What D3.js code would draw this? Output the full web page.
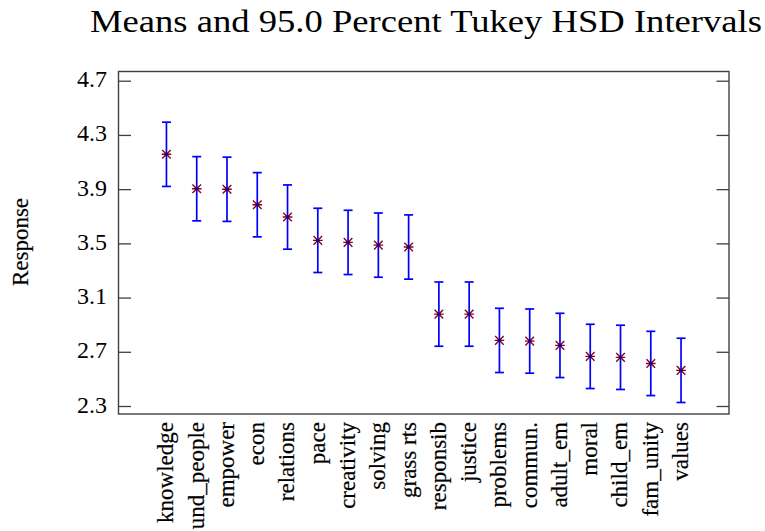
<!DOCTYPE html>
<html>
<head>
<meta charset="utf-8">
<script src="https://cdn.jsdelivr.net/npm/d3@7"></script>
<style>
  html, body { margin: 0; padding: 0; background: #fff; }
  svg { display: block; }
  text { font-family: "Liberation Serif", "Times New Roman", serif; fill: #000; }
  text.heavy { stroke: #000; stroke-width: 0.2; }
</style>
</head>
<body>
<svg id="chart" width="765" height="531"></svg>
<script>
// Group means (Response) for each factor, in display order
const categories = ["knowledge", "und_people", "empower", "econ", "relations", "pace",
  "creativity", "solving", "grass rts", "responsib", "justice", "problems", "commun.",
  "adult_em", "moral", "child_em", "fam_unity", "values"];
const means = [4.157, 3.903, 3.899, 3.785, 3.694, 3.522, 3.507, 3.487, 3.473,
  2.978, 2.978, 2.784, 2.779, 2.747, 2.666, 2.659, 2.614, 2.563];
// Half-width of the 95% Tukey HSD interval (equal group sizes)
const hsdHalf = 0.237;
const yTicks = [2.3, 2.7, 3.1, 3.5, 3.9, 4.3, 4.7];

const svg = d3.select("#chart");
const plot = { left: 118.5, right: 729, top: 71.5, bottom: 414 };

const x = d3.scaleLinear()
  .domain([-1.584, categories.length - 1 + 1.584])
  .range([plot.left, plot.right]);
const y = d3.scaleLinear()
  .domain([2.241, 4.768])
  .range([plot.bottom, plot.top]);

// Title
svg.append("text")
  .attr("x", 90).attr("y", 32)
  .attr("font-size", 31)
  .attr("textLength", 672)
  .attr("lengthAdjust", "spacingAndGlyphs")
  .text("Means and 95.0 Percent Tukey HSD Intervals");

// Y axis label
svg.append("text")
  .attr("class", "heavy")
  .attr("transform", "translate(28.3,242) rotate(-90)")
  .attr("text-anchor", "middle")
  .attr("font-size", 23)
  .text("Response");

// Inward ticks on left and right frame edges
const axisLeft = d3.axisLeft(y).tickValues(yTicks).tickSizeInner(-12.5).tickSizeOuter(0).tickFormat("");
const axisRight = d3.axisRight(y).tickValues(yTicks).tickSizeInner(-12.5).tickSizeOuter(0).tickFormat("");
svg.append("g").attr("transform", `translate(${plot.left},0)`).call(axisLeft)
  .call(g => g.select(".domain").remove())
  .selectAll("line").attr("stroke", "#404040").attr("stroke-width", 1.3);
svg.append("g").attr("transform", `translate(${plot.right},0)`).call(axisRight)
  .call(g => g.select(".domain").remove())
  .selectAll("line").attr("stroke", "#404040").attr("stroke-width", 1.3);

// Y tick labels
svg.append("g").selectAll("text")
  .data(yTicks)
  .join("text")
  .attr("x", 107)
  .attr("y", d => y(d) + 6.5)
  .attr("text-anchor", "end")
  .attr("font-size", 24)
  .attr("fill", "#222")
  .text(d => d3.format(".1f")(d));

// Plot frame
svg.append("rect")
  .attr("x", plot.left).attr("y", plot.top)
  .attr("width", plot.right - plot.left).attr("height", plot.bottom - plot.top)
  .attr("fill", "none").attr("stroke", "#404040").attr("stroke-width", 1.4);

// Category labels, rotated
svg.append("g").selectAll("text")
  .data(categories)
  .join("text")
  .attr("class", "heavy")
  .attr("transform", (d, i) => `translate(${x(i) + 6.9},422) rotate(-90)`)
  .attr("text-anchor", "end")
  .attr("font-size", 23)
  .text(d => d);

// Interval bars
const bars = svg.append("g").attr("stroke", "#0000ff").attr("stroke-width", 1.7).attr("fill", "none");
const cap = 4.5;
categories.forEach((c, i) => {
  const cx = x(i), lo = y(means[i] - hsdHalf), hi = y(means[i] + hsdHalf);
  bars.append("line").attr("x1", cx).attr("x2", cx).attr("y1", lo).attr("y2", hi);
  bars.append("line").attr("x1", cx - cap).attr("x2", cx + cap).attr("y1", lo).attr("y2", lo);
  bars.append("line").attr("x1", cx - cap).attr("x2", cx + cap).attr("y1", hi).attr("y2", hi);
});

// Mean markers (asterisks)
const m = 4.3;
const marks = svg.append("g");
categories.forEach((c, i) => {
  const cx = x(i), cy = y(means[i]);
  marks.append("path")
    .attr("d", `M${cx - m},${cy - m}L${cx + m},${cy + m}M${cx - m},${cy + m}L${cx + m},${cy - m}M${cx - m - 0.5},${cy}L${cx + m + 0.5},${cy}`)
    .attr("stroke", "#800033").attr("stroke-width", 1.4).attr("fill", "none");
  marks.append("circle").attr("cx", cx).attr("cy", cy).attr("r", 1.7).attr("fill", "#2a0040");
});
</script>
</body>
</html>
